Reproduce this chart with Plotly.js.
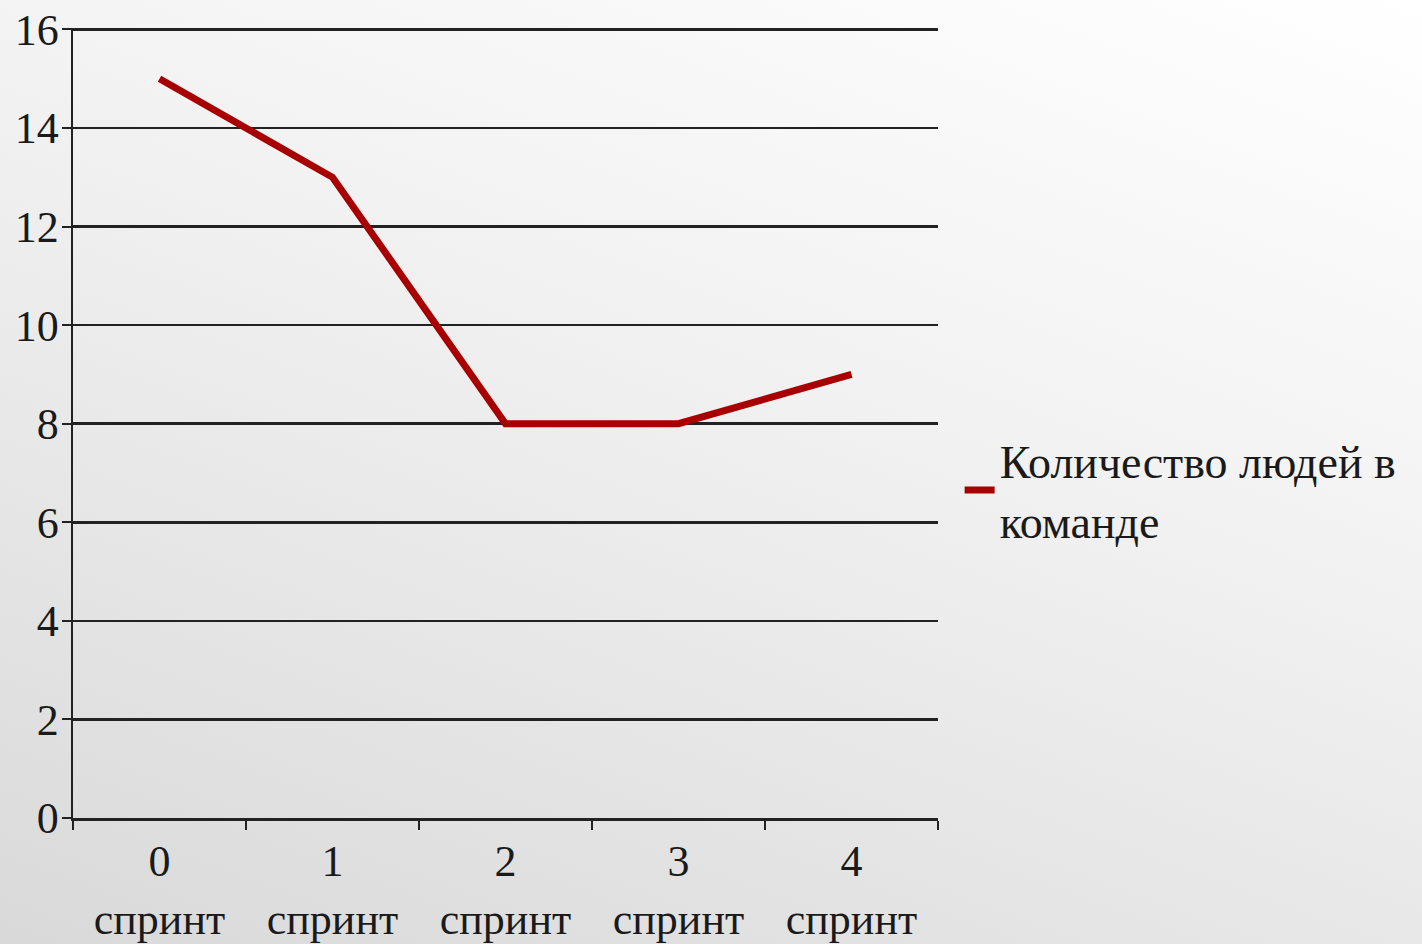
<!DOCTYPE html>
<html>
<head>
<meta charset="utf-8">
<script src="https://cdn.plot.ly/plotly-3.0.1.min.js"></script>
<style>
  html, body { margin:0; padding:0; width:1422px; height:944px; overflow:hidden;
    background: linear-gradient(200deg, #ffffff 0%, #f2f2f2 40%, #d9d9d9 100%); }
  #chart { width:1422px; height:944px; }
</style>
</head>
<body>
<div id="chart"></div>
<script>
const categories = ["0<br>спринт", "1<br>спринт", "2<br>спринт", "3<br>спринт", "4<br>спринт"];
const teamSize = [15, 13, 8, 8, 9];
const seriesName = "Количество людей в<br>команде";
const yTicks = [0, 2, 4, 6, 8, 10, 12, 14, 16];

const FONT = "Liberation Serif";

const trace = {
  x: categories,
  y: teamSize,
  type: "scatter",
  mode: "lines",
  name: seriesName,
  line: { color: "#a80000", width: 7 }
};

const layout = {
  width: 1422, height: 944,
  margin: { l: 73, r: 484, t: 28, b: 126 },
  paper_bgcolor: "rgba(0,0,0,0)",
  plot_bgcolor: "rgba(0,0,0,0)",
  font: { family: FONT, size: 44, color: "#1a1a1a" },
  showlegend: true,
  legend: {
    x: 1.025, y: 0.415, xanchor: "left", yanchor: "middle",
    bgcolor: "rgba(0,0,0,0)", itemwidth: 30,
    font: { family: FONT, size: 46, color: "#1a1a1a" }
  },
  xaxis: {
    type: "category",
    range: [-0.5, 4.5],
    showgrid: false,
    showline: true, linecolor: "#222", linewidth: 2.5,
    ticks: "outside", tickson: "boundaries", ticklen: 9, tickwidth: 2, tickcolor: "#222",
    ticklabelstandoff: 3,
    zeroline: false,
    fixedrange: true
  },
  yaxis: {
    range: [0, 16.03],
    tickvals: yTicks,
    showgrid: true, gridcolor: "#222", gridwidth: 2.5,
    showline: true, linecolor: "#222", linewidth: 2.5,
    ticks: "outside", ticklen: 9, tickwidth: 2, tickcolor: "#222",
    ticklabelstandoff: -6,
    zeroline: false,
    fixedrange: true
  }
};

Plotly.newPlot("chart", [trace], layout, { displayModeBar: false, staticPlot: true });
</script>
</body>
</html>
